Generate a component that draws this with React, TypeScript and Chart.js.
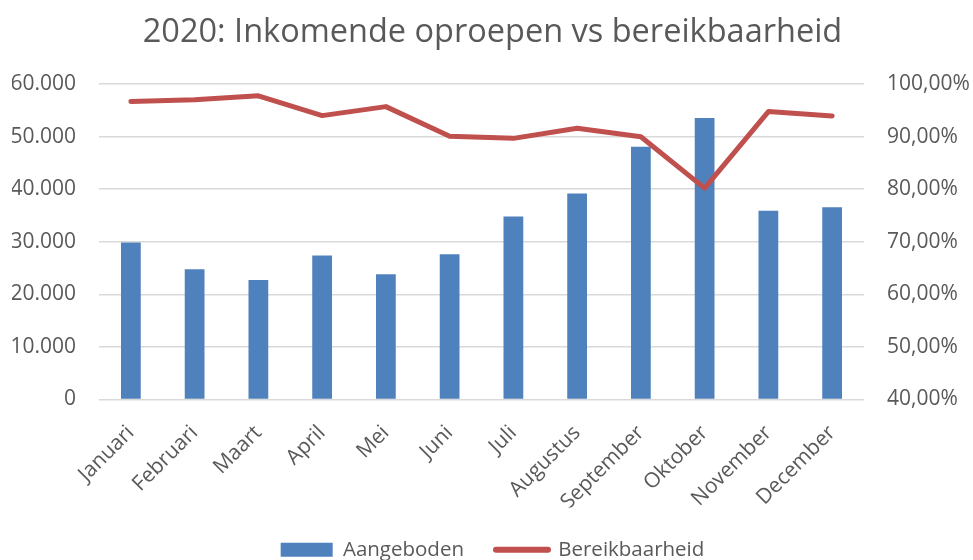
import React, { useEffect, useRef } from "react";
import { Chart, registerables } from "chart.js";

Chart.register(...registerables);

const TITLE = "2020: Inkomende oproepen vs bereikbaarheid";
const months = [
  "Januari", "Februari", "Maart", "April", "Mei", "Juni",
  "Juli", "Augustus", "September", "Oktober", "November", "December",
];
const aangeboden = [29870, 24770, 22730, 27380, 23810, 27640, 34790, 39190, 48060, 53550, 35880, 36570];
const bereikbaarheid = [96.67, 97.0, 97.76, 93.99, 95.7, 90.05, 89.66, 91.58, 89.97, 80.2, 94.76, 93.93];
const leftTicks = { min: 0, max: 60000, step: 10000 };
const rightTicks = { min: 40, max: 100, step: 10 };

const BLUE = "#4F81BD";
const RED = "#C0504D";
const TEXT = "#595959";
const GRID = "#D9D9D9";
const FONT = "'Open Sans', sans-serif";

function fmtThousands(v: number): string {
  const s = Math.round(v).toString();
  return s.replace(/\B(?=(\d{3})+(?!\d))/g, ".");
}
function fmtPct(v: number): string {
  return v.toFixed(2).replace(".", ",") + "%";
}

export default function App() {
  const ref = useRef<HTMLCanvasElement | null>(null);
  useEffect(() => {
    if (!ref.current) return;
    const chart = new Chart(ref.current, {
      data: {
        labels: months,
        datasets: [
          {
            type: "line",
            label: "Bereikbaarheid",
            data: bereikbaarheid,
            yAxisID: "y1",
            borderColor: RED,
            backgroundColor: RED,
            borderWidth: 5,
            pointRadius: 0,
            tension: 0,
            borderJoinStyle: "round",
            borderCapStyle: "round",
            order: 0,
          } as any,
          {
            type: "bar",
            label: "Aangeboden",
            data: aangeboden,
            yAxisID: "y",
            backgroundColor: BLUE,
            borderWidth: 0,
            barPercentage: 0.31,
            categoryPercentage: 1,
            order: 1,
          } as any,
        ],
      },
      options: {
        animation: false,
        responsive: true,
        maintainAspectRatio: false,
        layout: { padding: { left: 12, right: 0, top: 0, bottom: 0 } },
        plugins: {
          tooltip: { enabled: false },
          title: {
            display: true,
            text: TITLE,
            color: TEXT,
            font: { family: FONT, size: 32.5, weight: "normal" },
            padding: { top: 13, bottom: 32 },
          },
          legend: {
            position: "bottom",
            labels: {
              color: TEXT,
              font: { family: FONT, size: 20.5 },
              usePointStyle: true,
              pointStyleWidth: 52,
              boxHeight: 14,
              padding: 32,
              generateLabels: () => [
                {
                  text: "Aangeboden",
                  fillStyle: BLUE,
                  strokeStyle: BLUE,
                  lineWidth: 0,
                  pointStyle: "rect",
                  fontColor: TEXT,
                  datasetIndex: 1,
                  hidden: false,
                } as any,
                {
                  text: "Bereikbaarheid",
                  fillStyle: RED,
                  strokeStyle: RED,
                  lineWidth: 6,
                  lineCap: "round",
                  pointStyle: "line",
                  fontColor: TEXT,
                  datasetIndex: 0,
                  hidden: false,
                } as any,
              ],
            },
          },
        },
        scales: {
          x: {
            grid: { display: false },
            border: { display: false },
            ticks: {
              color: TEXT,
              font: { family: FONT, size: 21 },
              minRotation: 45,
              maxRotation: 45,
              autoSkip: false,
              padding: 13,
            },
            afterFit: (s: any) => { s.height = 108; },
          },
          y: {
            position: "left",
            min: leftTicks.min,
            max: leftTicks.max,
            grid: { color: GRID, lineWidth: 1.5, drawTicks: false },
            border: { display: false },
            ticks: {
              stepSize: leftTicks.step,
              color: TEXT,
              font: { family: FONT, size: 21 },
              padding: 23,
              callback: (v: any) => fmtThousands(Number(v)),
            },
            afterFit: (s: any) => { s.width = 87; },
          },
          y1: {
            position: "right",
            min: rightTicks.min,
            max: rightTicks.max,
            grid: { display: false, drawTicks: false },
            border: { display: false },
            ticks: {
              stepSize: rightTicks.step,
              color: TEXT,
              font: { family: FONT, size: 21 },
              padding: 23,
              callback: (v: any) => fmtPct(Number(v)),
            },
            afterFit: (s: any) => { s.width = 109; },
          },
        },
      },
    });
    return () => chart.destroy();
  }, []);

  return (
    <div style={{ position: "absolute", left: 0, top: 0, width: 973, height: 560, overflow: "hidden", background: "#fff" }}>
      <div style={{ position: "relative", width: 973, height: 570 }}>
        <canvas ref={ref} />
      </div>
    </div>
  );
}
